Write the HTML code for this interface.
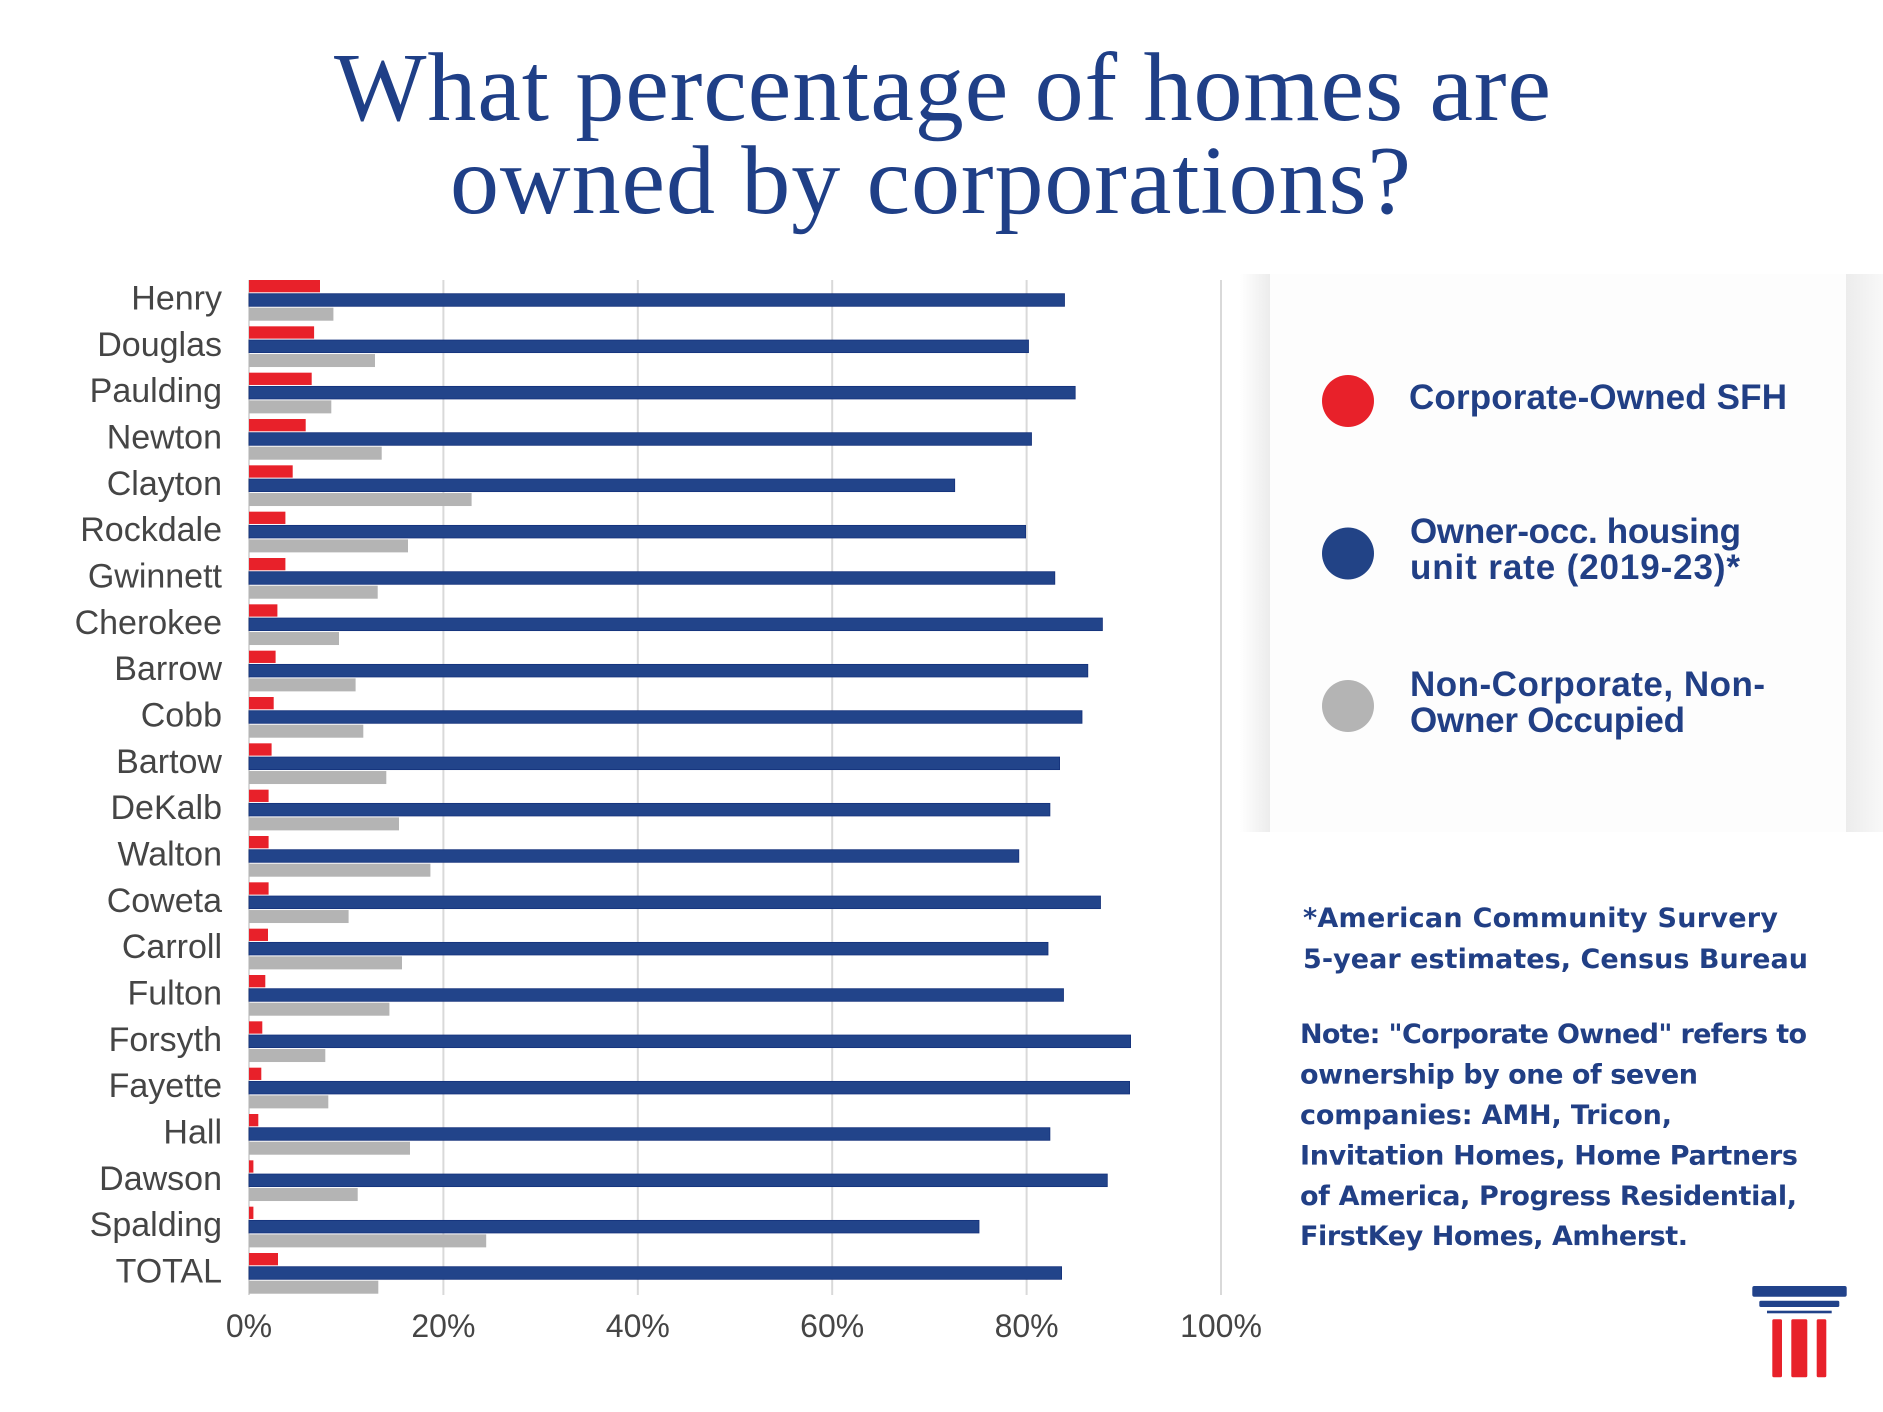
<!DOCTYPE html>
<html>
<head>
<meta charset="utf-8">
<style>
  html, body { margin: 0; padding: 0; background: #ffffff; }
  svg { display: block; }
  .lab { font-family: "Liberation Sans", Arial, sans-serif; font-size: 34px; fill: #454545; }
  .ax { font-family: "Liberation Sans", Arial, sans-serif; font-size: 32px; fill: #454545; }
  .ttl { font-family: "Liberation Serif", "DejaVu Serif", serif; font-size: 98px; fill: #1f3f87; }
  .leg { font-family: "Liberation Sans", Arial, sans-serif; font-weight: bold; font-size: 35px; fill: #213f85; }
  .note { font-family: "DejaVu Sans", "Liberation Sans", sans-serif; font-weight: bold; font-size: 27px; fill: #213f85; }
</style>
</head>
<body>
<svg width="1883" height="1412" viewBox="0 0 1883 1412" xmlns="http://www.w3.org/2000/svg">
  <defs>
    <linearGradient id="gl" x1="0" x2="1" y1="0" y2="0">
      <stop offset="0" stop-color="#ffffff"/>
      <stop offset="1" stop-color="#ececec"/>
    </linearGradient>
    <linearGradient id="gr" x1="0" x2="1" y1="0" y2="0">
      <stop offset="0" stop-color="#ececec"/>
      <stop offset="1" stop-color="#f8f8f8"/>
    </linearGradient>
  </defs>
  <rect x="0" y="0" width="1883" height="1412" fill="#ffffff"/>

  <!-- Title -->
  <text class="ttl" x="334" y="120" textLength="1217" lengthAdjust="spacing">What percentage of homes are</text>
  <text class="ttl" x="450" y="213" textLength="961" lengthAdjust="spacing">owned by corporations?</text>

  <!-- Gridlines -->
  <g stroke="#d9d9d9" stroke-width="2">
    <line x1="249" y1="280" x2="249" y2="1295"/>
    <line x1="443.4" y1="280" x2="443.4" y2="1295"/>
    <line x1="637.8" y1="280" x2="637.8" y2="1295"/>
    <line x1="832.2" y1="280" x2="832.2" y2="1295"/>
    <line x1="1026.6" y1="280" x2="1026.6" y2="1295"/>
    <line x1="1221" y1="280" x2="1221" y2="1295"/>
  </g>

  <!-- Bars -->
  <g id="bars">
    <g transform="translate(0,280)">
      <rect x="249" y="0" width="71" height="12.3" fill="#e8212a"/>
      <rect x="249" y="13.7" width="815.5" height="12.6" fill="#22448a" stroke="#14317a" stroke-width="0.8"/>
      <rect x="249" y="27.7" width="84.4" height="13" fill="#b4b4b4"/>
      <text class="lab" x="222" y="29.5" text-anchor="end">Henry</text>
    </g>
    <g transform="translate(0,326.33)">
      <rect x="249" y="0" width="65.1" height="12.3" fill="#e8212a"/>
      <rect x="249" y="13.7" width="779.5" height="12.6" fill="#22448a" stroke="#14317a" stroke-width="0.8"/>
      <rect x="249" y="27.7" width="126" height="13" fill="#b4b4b4"/>
      <text class="lab" x="222" y="29.5" text-anchor="end">Douglas</text>
    </g>
    <g transform="translate(0,372.67)">
      <rect x="249" y="0" width="62.7" height="12.3" fill="#e8212a"/>
      <rect x="249" y="13.7" width="826.2" height="12.6" fill="#22448a" stroke="#14317a" stroke-width="0.8"/>
      <rect x="249" y="27.7" width="82.3" height="13" fill="#b4b4b4"/>
      <text class="lab" x="222" y="29.5" text-anchor="end">Paulding</text>
    </g>
    <g transform="translate(0,419)">
      <rect x="249" y="0" width="56.7" height="12.3" fill="#e8212a"/>
      <rect x="249" y="13.7" width="782.5" height="12.6" fill="#22448a" stroke="#14317a" stroke-width="0.8"/>
      <rect x="249" y="27.7" width="132.7" height="13" fill="#b4b4b4"/>
      <text class="lab" x="222" y="29.5" text-anchor="end">Newton</text>
    </g>
    <g transform="translate(0,465.33)">
      <rect x="249" y="0" width="43.7" height="12.3" fill="#e8212a"/>
      <rect x="249" y="13.7" width="705.7" height="12.6" fill="#22448a" stroke="#14317a" stroke-width="0.8"/>
      <rect x="249" y="27.7" width="222.6" height="13" fill="#b4b4b4"/>
      <text class="lab" x="222" y="29.5" text-anchor="end">Clayton</text>
    </g>
    <g transform="translate(0,511.67)">
      <rect x="249" y="0" width="36.4" height="12.3" fill="#e8212a"/>
      <rect x="249" y="13.7" width="776.6" height="12.6" fill="#22448a" stroke="#14317a" stroke-width="0.8"/>
      <rect x="249" y="27.7" width="159" height="13" fill="#b4b4b4"/>
      <text class="lab" x="222" y="29.5" text-anchor="end">Rockdale</text>
    </g>
    <g transform="translate(0,558)">
      <rect x="249" y="0" width="36.4" height="12.3" fill="#e8212a"/>
      <rect x="249" y="13.7" width="805.8" height="12.6" fill="#22448a" stroke="#14317a" stroke-width="0.8"/>
      <rect x="249" y="27.7" width="128.7" height="13" fill="#b4b4b4"/>
      <text class="lab" x="222" y="29.5" text-anchor="end">Gwinnett</text>
    </g>
    <g transform="translate(0,604.33)">
      <rect x="249" y="0" width="28.4" height="12.3" fill="#e8212a"/>
      <rect x="249" y="13.7" width="853.4" height="12.6" fill="#22448a" stroke="#14317a" stroke-width="0.8"/>
      <rect x="249" y="27.7" width="90" height="13" fill="#b4b4b4"/>
      <text class="lab" x="222" y="29.5" text-anchor="end">Cherokee</text>
    </g>
    <g transform="translate(0,650.67)">
      <rect x="249" y="0" width="26.6" height="12.3" fill="#e8212a"/>
      <rect x="249" y="13.7" width="838.8" height="12.6" fill="#22448a" stroke="#14317a" stroke-width="0.8"/>
      <rect x="249" y="27.7" width="106.6" height="13" fill="#b4b4b4"/>
      <text class="lab" x="222" y="29.5" text-anchor="end">Barrow</text>
    </g>
    <g transform="translate(0,697)">
      <rect x="249" y="0" width="24.7" height="12.3" fill="#e8212a"/>
      <rect x="249" y="13.7" width="833" height="12.6" fill="#22448a" stroke="#14317a" stroke-width="0.8"/>
      <rect x="249" y="27.7" width="114.3" height="13" fill="#b4b4b4"/>
      <text class="lab" x="222" y="29.5" text-anchor="end">Cobb</text>
    </g>
    <g transform="translate(0,743.33)">
      <rect x="249" y="0" width="22.6" height="12.3" fill="#e8212a"/>
      <rect x="249" y="13.7" width="810.6" height="12.6" fill="#22448a" stroke="#14317a" stroke-width="0.8"/>
      <rect x="249" y="27.7" width="137.3" height="13" fill="#b4b4b4"/>
      <text class="lab" x="222" y="29.5" text-anchor="end">Bartow</text>
    </g>
    <g transform="translate(0,789.67)">
      <rect x="249" y="0" width="19.6" height="12.3" fill="#e8212a"/>
      <rect x="249" y="13.7" width="800.9" height="12.6" fill="#22448a" stroke="#14317a" stroke-width="0.8"/>
      <rect x="249" y="27.7" width="150" height="13" fill="#b4b4b4"/>
      <text class="lab" x="222" y="29.5" text-anchor="end">DeKalb</text>
    </g>
    <g transform="translate(0,836)">
      <rect x="249" y="0" width="19.6" height="12.3" fill="#e8212a"/>
      <rect x="249" y="13.7" width="769.8" height="12.6" fill="#22448a" stroke="#14317a" stroke-width="0.8"/>
      <rect x="249" y="27.7" width="181.4" height="13" fill="#b4b4b4"/>
      <text class="lab" x="222" y="29.5" text-anchor="end">Walton</text>
    </g>
    <g transform="translate(0,882.33)">
      <rect x="249" y="0" width="19.6" height="12.3" fill="#e8212a"/>
      <rect x="249" y="13.7" width="851.5" height="12.6" fill="#22448a" stroke="#14317a" stroke-width="0.8"/>
      <rect x="249" y="27.7" width="99.6" height="13" fill="#b4b4b4"/>
      <text class="lab" x="222" y="29.5" text-anchor="end">Coweta</text>
    </g>
    <g transform="translate(0,928.67)">
      <rect x="249" y="0" width="19" height="12.3" fill="#e8212a"/>
      <rect x="249" y="13.7" width="799" height="12.6" fill="#22448a" stroke="#14317a" stroke-width="0.8"/>
      <rect x="249" y="27.7" width="153" height="13" fill="#b4b4b4"/>
      <text class="lab" x="222" y="29.5" text-anchor="end">Carroll</text>
    </g>
    <g transform="translate(0,975)">
      <rect x="249" y="0" width="16.3" height="12.3" fill="#e8212a"/>
      <rect x="249" y="13.7" width="814.5" height="12.6" fill="#22448a" stroke="#14317a" stroke-width="0.8"/>
      <rect x="249" y="27.7" width="140.4" height="13" fill="#b4b4b4"/>
      <text class="lab" x="222" y="29.5" text-anchor="end">Fulton</text>
    </g>
    <g transform="translate(0,1021.33)">
      <rect x="249" y="0" width="13.3" height="12.3" fill="#e8212a"/>
      <rect x="249" y="13.7" width="881.6" height="12.6" fill="#22448a" stroke="#14317a" stroke-width="0.8"/>
      <rect x="249" y="27.7" width="76.3" height="13" fill="#b4b4b4"/>
      <text class="lab" x="222" y="29.5" text-anchor="end">Forsyth</text>
    </g>
    <g transform="translate(0,1067.67)">
      <rect x="249" y="0" width="12.3" height="12.3" fill="#e8212a"/>
      <rect x="249" y="13.7" width="880.6" height="12.6" fill="#22448a" stroke="#14317a" stroke-width="0.8"/>
      <rect x="249" y="27.7" width="79.3" height="13" fill="#b4b4b4"/>
      <text class="lab" x="222" y="29.5" text-anchor="end">Fayette</text>
    </g>
    <g transform="translate(0,1114)">
      <rect x="249" y="0" width="9.3" height="12.3" fill="#e8212a"/>
      <rect x="249" y="13.7" width="800.9" height="12.6" fill="#22448a" stroke="#14317a" stroke-width="0.8"/>
      <rect x="249" y="27.7" width="161" height="13" fill="#b4b4b4"/>
      <text class="lab" x="222" y="29.5" text-anchor="end">Hall</text>
    </g>
    <g transform="translate(0,1160.33)">
      <rect x="249" y="0" width="4.4" height="12.3" fill="#e8212a"/>
      <rect x="249" y="13.7" width="858.3" height="12.6" fill="#22448a" stroke="#14317a" stroke-width="0.8"/>
      <rect x="249" y="27.7" width="108.7" height="13" fill="#b4b4b4"/>
      <text class="lab" x="222" y="29.5" text-anchor="end">Dawson</text>
    </g>
    <g transform="translate(0,1206.67)">
      <rect x="249" y="0" width="4.4" height="12.3" fill="#e8212a"/>
      <rect x="249" y="13.7" width="730" height="12.6" fill="#22448a" stroke="#14317a" stroke-width="0.8"/>
      <rect x="249" y="27.7" width="237.2" height="13" fill="#b4b4b4"/>
      <text class="lab" x="222" y="29.5" text-anchor="end">Spalding</text>
    </g>
    <g transform="translate(0,1253)">
      <rect x="249" y="0" width="29" height="12.3" fill="#e8212a"/>
      <rect x="249" y="13.7" width="812.6" height="12.6" fill="#22448a" stroke="#14317a" stroke-width="0.8"/>
      <rect x="249" y="27.7" width="129.3" height="13" fill="#b4b4b4"/>
      <text class="lab" x="222" y="29.5" text-anchor="end">TOTAL</text>
    </g>
  </g>

  <!-- Axis labels -->
  <g class="ax" text-anchor="middle">
    <text x="249" y="1337">0%</text>
    <text x="443.4" y="1337">20%</text>
    <text x="637.8" y="1337">40%</text>
    <text x="832.2" y="1337">60%</text>
    <text x="1026.6" y="1337">80%</text>
    <text x="1221" y="1337">100%</text>
  </g>

  <!-- Legend panel -->
  <rect x="1240" y="274" width="30" height="558" fill="url(#gl)"/>
  <rect x="1270" y="274" width="576" height="558" fill="#fdfdfd"/>
  <rect x="1846" y="274" width="37" height="558" fill="url(#gr)"/>

  <circle cx="1348" cy="401" r="26" fill="#e8212a"/>
  <text class="leg" x="1409" y="409" textLength="378" lengthAdjust="spacing">Corporate-Owned SFH</text>

  <circle cx="1348" cy="553.5" r="26" fill="#224386"/>
  <text class="leg" x="1410" y="543" textLength="331" lengthAdjust="spacing">Owner-occ. housing</text>
  <text class="leg" x="1410" y="579" textLength="330" lengthAdjust="spacing">unit rate (2019-23)*</text>

  <circle cx="1348" cy="706" r="26" fill="#b4b4b4"/>
  <text class="leg" x="1410" y="696" textLength="355" lengthAdjust="spacing">Non-Corporate, Non-</text>
  <text class="leg" x="1410" y="732" textLength="275" lengthAdjust="spacing">Owner Occupied</text>

  <!-- Notes -->
  <text class="note" x="1303" y="927" textLength="475" lengthAdjust="spacing">*American Community Survery</text>
  <text class="note" x="1303" y="968" textLength="505" lengthAdjust="spacing">5-year estimates, Census Bureau</text>

  <text class="note" x="1300" y="1043" textLength="507" lengthAdjust="spacing">Note: "Corporate Owned" refers to</text>
  <text class="note" x="1300" y="1083.5" textLength="398" lengthAdjust="spacing">ownership by one of seven</text>
  <text class="note" x="1300" y="1124" textLength="372" lengthAdjust="spacing">companies: AMH, Tricon,</text>
  <text class="note" x="1300" y="1164.5" textLength="498" lengthAdjust="spacing">Invitation Homes, Home Partners</text>
  <text class="note" x="1300" y="1205" textLength="497" lengthAdjust="spacing">of America, Progress Residential,</text>
  <text class="note" x="1300" y="1245" textLength="388" lengthAdjust="spacing">FirstKey Homes, Amherst.</text>

  <!-- Logo -->
  <rect x="1752.3" y="1286" width="94.4" height="10.7" rx="2" fill="#21428a"/>
  <rect x="1759.3" y="1300.7" width="80" height="6.3" rx="1.5" fill="#21428a"/>
  <rect x="1767" y="1310.7" width="64.7" height="2.6" fill="#21428a"/>
  <rect x="1772.3" y="1319.3" width="9.7" height="58" rx="1.5" fill="#e8212a"/>
  <rect x="1791.3" y="1319.3" width="16" height="58" rx="1.5" fill="#e8212a"/>
  <rect x="1816.7" y="1319.3" width="9.6" height="58" rx="1.5" fill="#e8212a"/>
</svg>
</body>
</html>
